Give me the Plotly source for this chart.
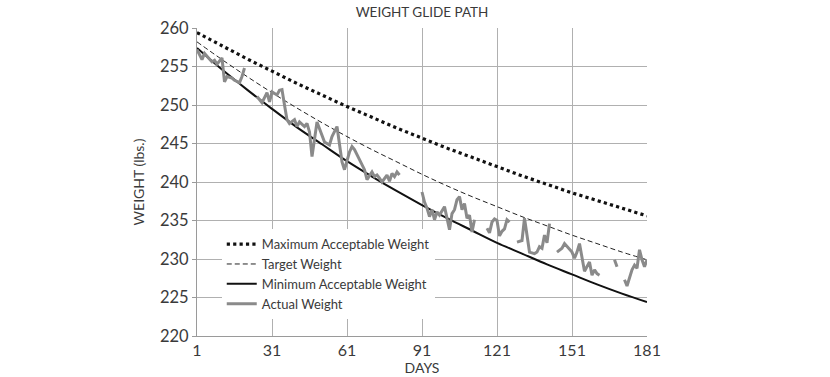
import plotly.graph_objects as go

# Glide-path curves (read every 10 days)
curve_days = [1, 11, 21, 31, 41, 51, 61, 71, 81, 91, 101, 111, 121, 131, 141, 151, 161, 171, 181]
max_weight = [259.4, 257.7, 256.0, 254.4, 252.8, 251.3, 249.8, 248.4, 247.0, 245.7,
              244.4, 243.2, 242.0, 240.8, 239.7, 238.6, 237.6, 236.6, 235.6]
target_weight = [258.2, 255.9, 253.7, 251.6, 249.6, 247.7, 245.9, 244.2, 242.6, 241.0,
                 239.5, 238.1, 236.8, 235.5, 234.3, 233.1, 232.0, 230.9, 229.9]
min_weight = [257.4, 254.6, 252.0, 249.5, 247.1, 244.9, 242.7, 240.7, 238.8, 237.0,
              235.3, 233.7, 232.1, 230.7, 229.3, 228.0, 226.7, 225.5, 224.4]

# Actual weight (None = missing days)
actual_days = [1, 3, 4, 5, 7, 8, 9, 11, 12, 13, 15, 16, 18, 19, 20, 21,
               25, 26, 27, 29, 30, 31, 33, 34, 35, 36, 37, 38, 40, 41, 42, 44, 45, 46, 47,
               49, 51, 52, 54, 55, 57, 58, 59, 60, 62, 63, 64, 66, 67, 68, 69, 71, 72, 73,
               74, 75, 77, 78, 79, 80, 81, 82, 83,
               91, 92, 93, 94, 95, 96, 97, 98, 100, 101, 102, 103, 104, 105, 106, 107, 108,
               109, 110, 111, 112, 113,
               117, 118, 119, 120, 121, 122, 123, 124, 125, 126, 127,
               129, 131, 132, 133, 134, 136, 137, 138, 139, 140, 141, 142, 143,
               145, 147, 148, 149, 151, 152, 153, 154, 155, 156, 158, 159, 160, 161, 162, 163,
               168, 169, 170,
               172, 173, 175, 176, 177, 178, 179, 180, 181]
actual_weight = [257.2, 255.9, 256.7, 256.3, 255.6, 255.8, 255.3, 256.1, 253.0, 253.7, 253.5,
                 253.2, 252.9, 253.7, 254.8, None,
                 251.1, 250.7, 250.3, 251.6, 250.4, 251.7, 251.3, 251.9, 252.0, 250.0, 248.1,
                 247.6, 248.1, 247.2, 247.8, 247.2, 247.6, 246.5, 243.3,
                 247.8, 245.9, 245.2, 244.8, 245.9, 247.2, 245.2, 242.6, 241.6, 243.9, 244.6,
                 244.2, 242.9, 242.2, 241.6, 240.3, 241.3, 240.7, 240.9,
                 240.5, 240.0, 240.9, 240.1, 241.1, 240.7, 241.3, 240.9, None,
                 238.7, 237.4, 236.6, 235.5, 236.4, 235.1, 236.1, 235.7, 236.8, 235.1, 233.8,
                 235.9, 236.4, 237.7, 238.1, 236.4, 237.2,
                 235.3, 235.7, 233.5, 235.1, None,
                 234.0, 233.4, 234.8, 235.2, 235.0, 233.0, 233.6, 233.9, 235.1, 234.8, None,
                 232.2, 232.4, 235.3, 233.1, 230.9, 230.7, 230.9, 231.6, 231.4, 233.1, 232.1, 234.6, None,
                 230.9, 231.4, 232.0, 231.6, 230.9, 230.1, 230.9, 232.0, 230.1, 228.4, 229.6,
                 227.9, 228.6, 228.1, 227.9, None,
                 229.9, 229.0, None,
                 227.3, 226.5, 228.6, 229.2, 228.8, 231.2, 229.9, 229.0, 229.9]

x_ticks = [1, 31, 61, 91, 121, 151, 181]
y_ticks = [220, 225, 230, 235, 240, 245, 250, 255, 260]

FONT = "Lato"
TXT = "#3a3a3a"
W, H = 830, 377

fig = go.Figure()
fig.add_trace(go.Scatter(x=curve_days, y=max_weight, mode="lines", line_shape="spline",
                         name="Maximum Acceptable Weight",
                         line=dict(color="#111111", width=3.2, dash="dot")))
fig.add_trace(go.Scatter(x=curve_days, y=target_weight, mode="lines", line_shape="spline",
                         name="Target Weight",
                         line=dict(color="#222222", width=1, dash="5px,3px")))
fig.add_trace(go.Scatter(x=curve_days, y=min_weight, mode="lines", line_shape="spline",
                         name="Minimum Acceptable Weight",
                         line=dict(color="#111111", width=2)))
fig.add_trace(go.Scatter(x=actual_days, y=actual_weight, mode="lines",
                         name="Actual Weight", connectgaps=False,
                         line=dict(color="#8a8a8a", width=3)))

fig.update_layout(
    width=W, height=H,
    margin=dict(l=197, r=183, t=28, b=41),
    paper_bgcolor="white", plot_bgcolor="white",
    font=dict(family=FONT, color=TXT, size=14),
    title=dict(text="WEIGHT GLIDE PATH", x=422 / W, xanchor="center",
               y=1 - 12 / H, yanchor="middle", font=dict(size=13.5, color=TXT)),
    showlegend=True,
    legend=dict(x=0.055, xanchor="left", y=0.347, yanchor="top",
                bgcolor="white", borderwidth=0, font=dict(size=13, color=TXT),
                tracegroupgap=0, itemwidth=30),
)
fig.update_xaxes(range=[1, 181], tickvals=x_ticks, ticktext=[str(v) for v in x_ticks],
                 automargin=False,
                 showgrid=True, gridcolor="#b0b0b0", gridwidth=1,
                 showline=True, linecolor="#9a9a9a", linewidth=1, mirror=False,
                 ticks="", tickfont=dict(size=16, color=TXT),
                 title=dict(text="DAYS", font=dict(size=14, color=TXT), standoff=0),
                 zeroline=False)
fig.update_yaxes(range=[220, 260], tickvals=y_ticks, automargin=False,
                 showgrid=True, gridcolor="#b0b0b0", gridwidth=1,
                 showline=True, linecolor="#9a9a9a", linewidth=1,
                 ticks="outside", ticklen=4, tickcolor="#9a9a9a",
                 tickfont=dict(size=16.5, color=TXT),
                 title=dict(text="WEIGHT (lbs.)", font=dict(size=14, color=TXT), standoff=12),
                 zeroline=False)

fig.write_html("out.html", config={"displayModeBar": False},
               post_script="document.body.style.margin='0';document.body.style.padding='0';")
